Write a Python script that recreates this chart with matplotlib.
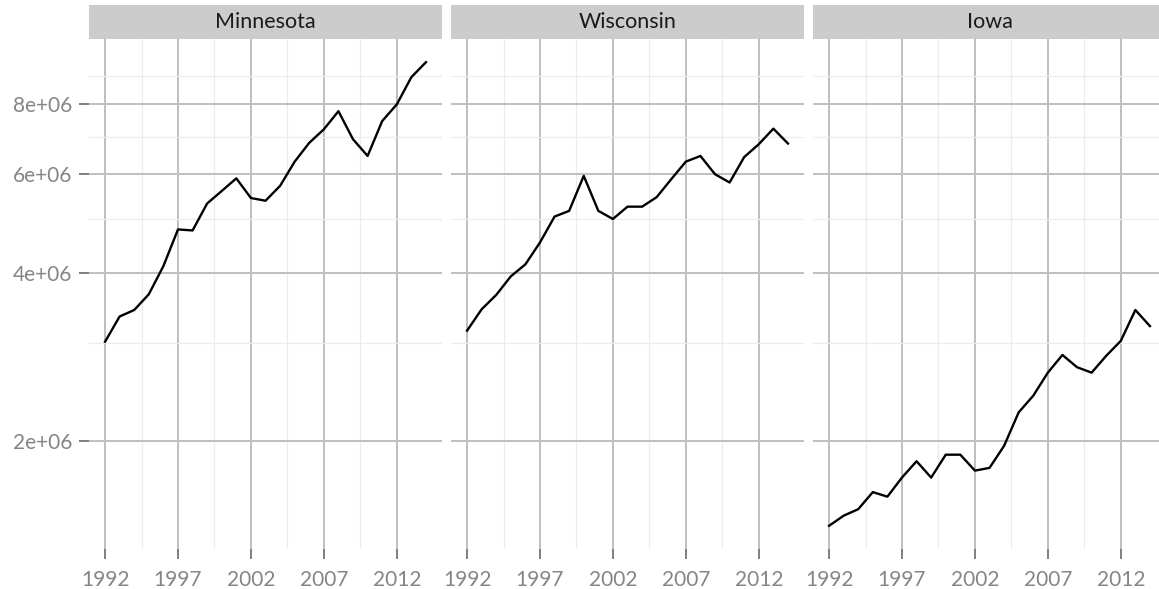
import numpy as np
import matplotlib.pyplot as plt
from matplotlib.patches import Rectangle
from matplotlib.ticker import FixedLocator, NullFormatter

plt.rcParams['font.family'] = ['Lato', 'DejaVu Sans']

years = list(range(1992, 2015))
states = ['Minnesota', 'Wisconsin', 'Iowa']

minnesota = [3.01e6, 3.34e6, 3.43e6, 3.66e6, 4.11e6, 4.78e6, 4.76e6, 5.32e6, 5.60e6, 5.90e6,
             5.44e6, 5.38e6, 5.72e6, 6.32e6, 6.83e6, 7.22e6, 7.78e6, 6.93e6, 6.47e6, 7.47e6,
             8.00e6, 8.95e6, 9.52e6]
wisconsin = [3.15e6, 3.44e6, 3.65e6, 3.94e6, 4.14e6, 4.53e6, 5.04e6, 5.16e6, 5.96e6, 5.16e6,
             4.99e6, 5.25e6, 5.25e6, 5.46e6, 5.88e6, 6.32e6, 6.47e6, 6.00e6, 5.80e6, 6.44e6,
             6.79e6, 7.24e6, 6.81e6]
iowa = [1.41e6, 1.47e6, 1.51e6, 1.62e6, 1.59e6, 1.72e6, 1.84e6, 1.72e6, 1.89e6, 1.89e6,
        1.77e6, 1.79e6, 1.96e6, 2.25e6, 2.41e6, 2.65e6, 2.85e6, 2.71e6, 2.65e6, 2.84e6,
        3.02e6, 3.43e6, 3.21e6]

x_breaks = [1992, 1997, 2002, 2007, 2012]
x_minor = [1994.5, 1999.5, 2004.5, 2009.5]
y_breaks = [2e6, 4e6, 6e6, 8e6]
y_labels = ['2e+06', '4e+06', '6e+06', '8e+06']
y_minor = [3e6, 5e6, 7e6, 9e6]

series = [minnesota, wisconsin, iowa]

W, H = 1159, 589
fig = plt.figure(figsize=(W / 100, H / 100), dpi=100)

# shared limits, 5% expansion like ggplot
allv = np.log10(np.concatenate(series))
lo, hi = allv.min(), allv.max()
pad = 0.05 * (hi - lo)
ylim = (10 ** (lo - pad), 10 ** (hi + pad))
xpad = 0.05 * (years[-1] - years[0])
xlim = (years[0] - xpad, years[-1] + xpad)

panel_left = [89, 451, 813]
panel_w = 353
panel_top, panel_bot = 39, 549
strip_h = 34

tick_grey = '#858585'
major_grid = '#bfbfbf'
minor_grid = '#ececec'

for i, (name, vals) in enumerate(zip(states, series)):
    ax = fig.add_axes([panel_left[i] / W, (H - panel_bot) / H,
                       panel_w / W, (panel_bot - panel_top) / H])
    ax.set_yscale('log')
    ax.plot(years, vals, color='black', lw=1.7, zorder=3)
    ax.set_xlim(*xlim)
    ax.set_ylim(*ylim)

    ax.set_xticks(x_breaks)
    ax.xaxis.set_minor_locator(FixedLocator(x_minor))
    ax.set_yticks(y_breaks)
    ax.yaxis.set_minor_locator(FixedLocator(y_minor))
    ax.yaxis.set_minor_formatter(NullFormatter())

    ax.grid(which='major', color=major_grid, lw=1.4)
    ax.grid(which='minor', color=minor_grid, lw=0.9)
    ax.set_axisbelow(True)
    ax.tick_params(which='minor', length=0)
    ax.tick_params(which='major', colors='#7f7f7f', labelcolor=tick_grey,
                   labelsize=15, width=1.4, length=7, pad=5)
    ax.tick_params(axis='x', which='major', pad=8)
    if i == 0:
        ax.set_yticklabels(y_labels)
    else:
        ax.tick_params(axis='y', which='both', left=False, labelleft=False)
    for s in ax.spines.values():
        s.set_visible(False)

    ax.add_patch(Rectangle((0, 1), 1, strip_h / (panel_bot - panel_top),
                           transform=ax.transAxes, clip_on=False,
                           facecolor='#cccccc', edgecolor='none'))
    ax.text(0.5, 1 + strip_h / 2 / (panel_bot - panel_top), name,
            transform=ax.transAxes, ha='center', va='center',
            fontsize=15.5, color='#1a1a1a')

fig.savefig('out.png', dpi=100)
